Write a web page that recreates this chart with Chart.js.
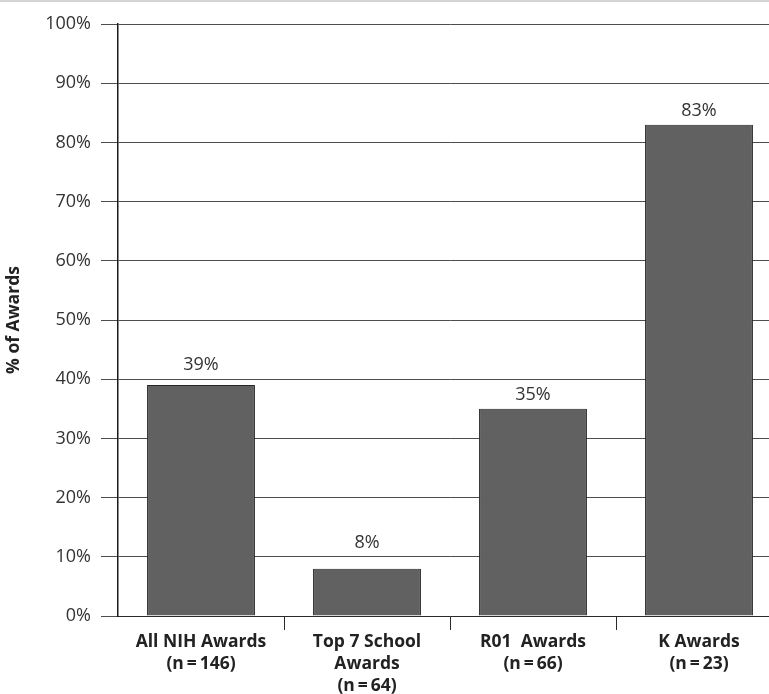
<!DOCTYPE html>
<html>
<head>
<meta charset="utf-8">
<script src="https://cdn.jsdelivr.net/npm/chart.js@4"></script>
<style>
  html, body { margin: 0; padding: 0; background: #fff; overflow: hidden; }
  #topo { height: 0; border-top: 2px solid #d4d4d4; width: 100%; }
</style>
</head>
<body>
<div id="topo"></div>
<canvas id="graficoAwards" width="800" height="692"></canvas>
<script>
// categorias e valores do gráfico
var categorias = [
	['All NIH Awards', '(n\u2009=\u2009146)'],
	['Top 7 School', 'Awards', '(n\u2009=\u200964)'],
	['R01  Awards', '(n\u2009=\u200966)'],
	['K Awards', '(n\u2009=\u200923)']
];
var valores = [39, 8, 35, 83];
var ticksY = [0, 10, 20, 30, 40, 50, 60, 70, 80, 90, 100];
var tituloY = '% of Awards';

var fonte = '"Open Sans", "DejaVu Sans", sans-serif';

// escreve o percentual em cima de cada barra
// (se uma linha de grade passa pelo texto, o rótulo sobe para cima dela)
var rotulosBarras = {
	id: 'rotulosBarras',
	afterDatasetsDraw: function(chart) {
		var ctx = chart.ctx;
		var escalaY = chart.scales.y;
		var meta = chart.getDatasetMeta(0);
		var folga = 9, alturaTexto = 15;
		ctx.save();
		ctx.font = '18px ' + fonte;
		ctx.fillStyle = '#333';
		ctx.textAlign = 'center';
		ctx.textBaseline = 'alphabetic';
		meta.data.forEach(function(barra, i) {
			var base = barra.y - folga;
			ticksY.forEach(function(t) {
				var yGrade = escalaY.getPixelForValue(t);
				if (yGrade < barra.y - 1 && yGrade > base - alturaTexto) {
					base = Math.min(base, yGrade - folga);
				}
			});
			ctx.fillText(valores[i] + '%', barra.x, base);
		});
		ctx.restore();
	}
};

var ctx = document.getElementById('graficoAwards').getContext('2d');
var grafico = new Chart(ctx, {
	type: 'bar',
	data: {
		labels: categorias,
		datasets: [{
			data: valores,
			backgroundColor: '#616161',
			borderColor: '#262626',
			borderWidth: 1,
			barPercentage: 0.65,
			categoryPercentage: 1
		}]
	},
	options: {
		responsive: false,
		animation: false,
		layout: { padding: { top: 22, right: 18, left: 0, bottom: 0 } },
		plugins: {
			legend: { display: false },
			tooltip: { enabled: false }
		},
		scales: {
			x: {
				offset: true,
				afterFit: function(scale) { scale.height = 78; },
				border: { color: '#2a2a2a', width: 1 },
				grid: {
					offset: true,
					drawOnChartArea: false,
					drawTicks: true,
					tickLength: 14,
					color: function(c) { return c.index === 0 ? 'rgba(0,0,0,0)' : '#2a2a2a'; }
				},
				ticks: {
					color: '#222',
					padding: 1,
					maxRotation: 0,
					font: { family: fonte, size: 17.5, weight: 'bold', lineHeight: 1.26 }
				}
			},
			y: {
				min: 0,
				max: 100,
				afterFit: function(scale) { scale.width = 118; },
				afterBuildTicks: function(scale) {
					scale.ticks = ticksY.map(function(v) { return { value: v }; });
				},
				border: { color: '#1a1a1a', width: 1.5 },
				grid: {
					color: '#4d4d4d',
					lineWidth: 1,
					drawTicks: true,
					tickLength: 17,
					tickColor: '#4d4d4d'
				},
				ticks: {
					color: '#333',
					padding: 10,
					font: { family: fonte, size: 18 },
					callback: function(v) { return v + '%'; }
				},
				title: {
					display: true,
					text: tituloY,
					color: '#222',
					padding: { top: 4, bottom: 0 },
					font: { family: fonte, size: 17.5, weight: 'bold' }
				}
			}
		}
	},
	plugins: [rotulosBarras]
});
</script>
</body>
</html>
